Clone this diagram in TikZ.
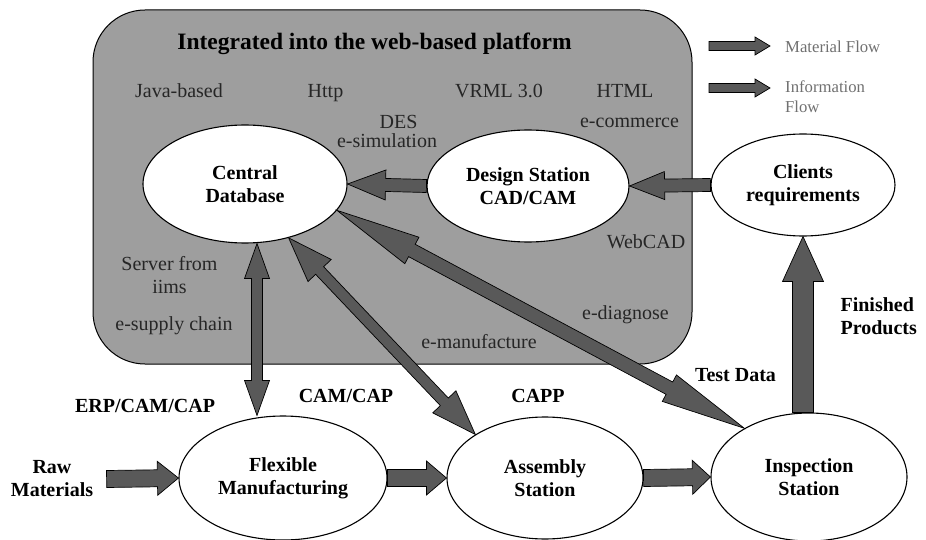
\documentclass[tikz,border=0pt]{standalone}
\usepackage{fontspec}
\setmainfont{Liberation Serif}
\usetikzlibrary{calc,shapes.geometric}
\definecolor{platgray}{RGB}{158,158,158}
\definecolor{flowgray}{RGB}{89,89,89}
\definecolor{labelgray}{RGB}{38,38,38}
\definecolor{legendgray}{RGB}{112,112,112}

\tikzset{
  station/.style={ellipse,draw,line width=1.1pt,fill=white,inner sep=0pt,align=center,
    font=\bfseries\fontsize{20}{23}\selectfont},
  weblabel/.style={anchor=base,text=labelgray,font=\fontsize{20}{23}\selectfont},
  boldlabel/.style={anchor=base,font=\bfseries\fontsize{20}{23}\selectfont},
  arrowbody/.style={draw=black,line width=0.7pt,fill=flowgray},
  % shaft half width / head half width / head length, all in pt
  blockarrow/.style n args={3}{to path={
    let \p1=(\tikztostart), \p2=(\tikztotarget),
        \n1={atan2(\y2-\y1,\x2-\x1)}, \n2={veclen(\x2-\x1,\y2-\y1)} in
    ($(\p1)+(\n1+90:#1pt)$) -- ($(\p1)+(\n1:\n2-#3pt)+(\n1+90:#1pt)$)
    -- ($(\p1)+(\n1:\n2-#3pt)+(\n1+90:#2pt)$) -- (\p2)
    -- ($(\p1)+(\n1:\n2-#3pt)+(\n1-90:#2pt)$) -- ($(\p1)+(\n1:\n2-#3pt)+(\n1-90:#1pt)$)
    -- ($(\p1)+(\n1-90:#1pt)$) -- cycle}},
  twinarrow/.style n args={3}{to path={
    let \p1=(\tikztostart), \p2=(\tikztotarget),
        \n1={atan2(\y2-\y1,\x2-\x1)}, \n2={veclen(\x2-\x1,\y2-\y1)} in
    (\p1) -- ($(\p1)+(\n1:#3pt)+(\n1+90:#2pt)$) -- ($(\p1)+(\n1:#3pt)+(\n1+90:#1pt)$)
    -- ($(\p1)+(\n1:\n2-#3pt)+(\n1+90:#1pt)$) -- ($(\p1)+(\n1:\n2-#3pt)+(\n1+90:#2pt)$)
    -- (\p2)
    -- ($(\p1)+(\n1:\n2-#3pt)+(\n1-90:#2pt)$) -- ($(\p1)+(\n1:\n2-#3pt)+(\n1-90:#1pt)$)
    -- ($(\p1)+(\n1:#3pt)+(\n1-90:#1pt)$) -- ($(\p1)+(\n1:#3pt)+(\n1-90:#2pt)$) -- cycle}},
}

\begin{document}
\begin{tikzpicture}[x=1pt,y=-1pt]
  \useasboundingbox (0,0) rectangle (926,540);

  % web-based platform
  \draw[line width=1pt,fill=platgray,rounded corners=52] (93,10) rectangle (692,364);
  \node[anchor=base,font=\bfseries\fontsize{23.5}{26}\selectfont] (title) at (374.5,50)
    {Integrated into the web-based platform};

  \node[weblabel] (java) at (179,98) {Java-based};
  \node[weblabel] (http) at (325.5,98) {Http};
  \node[weblabel] (vrml) at (499,98) {VRML 3.0};
  \node[weblabel] (html) at (625,98) {HTML};
  \node[weblabel] (des) at (398.5,129) {DES};
  \node[weblabel] (esim) at (387,148) {e-simulation};
  \node[weblabel] (ecom) at (629.5,128) {e-commerce};
  \node[weblabel] (server) at (169.5,270) {Server from};
  \node[weblabel] (iims) at (169.5,293) {iims};
  \node[weblabel] (esup) at (174,330) {e-supply chain};
  \node[weblabel] (webcad) at (646,248) {WebCAD};
  \node[weblabel] (ediag) at (625.5,319) {e-diagnose};
  \node[weblabel] (emanu) at (479,348) {e-manufacture};

  % stations
  \node[station,minimum width=204,minimum height=118] (cdb) at (245,184) {Central\\Database};
  \node[station,minimum width=202,minimum height=112] (ds) at (528,186) {Design Station\\CAD/CAM};
  \node[station,minimum width=184,minimum height=102] (cr) at (803,185) {Clients\\requirements};
  \node[station,minimum width=208,minimum height=124] (fm) at (283,478) {Flexible\\Manufacturing};
  \node[station,minimum width=196,minimum height=122] (as) at (545,478) {Assembly\\Station};
  \node[station,minimum width=196,minimum height=128] (is) at (809,477) {Inspection\\Station};

  % bold labels
  \node[boldlabel,anchor=center,align=center] (raw) at (52,479) {Raw\\Materials};
  \node[boldlabel] (erp) at (145,412) {ERP/CAM/CAP};
  \node[boldlabel] (camcap) at (346,402) {CAM/CAP};
  \node[boldlabel] (capp) at (538,402) {CAPP};
  \node[boldlabel] (test) at (735.5,381) {Test Data};
  \node[boldlabel,anchor=west,align=left] (fin) at (837,316) {Finished\\Products};

  % information flow
  \draw[arrowbody] (ds.west) to[blockarrow={6.5}{15}{38}] (cdb.east);
  \draw[arrowbody] (cr.west) to[blockarrow={6.5}{14}{35}] (ds.east);
  \draw[arrowbody] ($(cdb.south)+(12,0)$) to[twinarrow={5.5}{12.5}{35}] ($(fm.north)+(-26,0)$);
  \draw[arrowbody] (cdb.-51) to[twinarrow={5.5}{16}{45}] (as.148);
  \draw[arrowbody] (cdb.-16) to[twinarrow={7}{15}{85}] (is.143);

  % material flow
  \draw[arrowbody] ($(raw.east)+(10,0)$) to[blockarrow={8.5}{17}{21}] (fm.west);
  \draw[arrowbody] (fm.east) to[blockarrow={8.5}{17}{20}] (as.west);
  \draw[arrowbody] (as.east) to[blockarrow={8.5}{17}{18}] (is.west);
  \draw[arrowbody] (cr.south |- is.north) to[blockarrow={10.5}{20.5}{45}] (cr.south);

  % legend
  \coordinate (mat0) at (709,46);
  \coordinate (mat1) at (770,46);
  \coordinate (inf0) at (709,88);
  \coordinate (inf1) at (770,88);
  \draw[arrowbody] (mat0) to[blockarrow={4.5}{9}{15}] (mat1);
  \draw[arrowbody] (inf0) to[blockarrow={4.5}{9}{15}] (inf1);
  \node[anchor=base west,inner sep=0pt,text=legendgray,font=\fontsize{16.7}{20}\selectfont] (matflow) at (785,53) {Material Flow};
  \node[anchor=base west,inner sep=0pt,text=legendgray,font=\fontsize{16.7}{20}\selectfont] (infflow) at (785,93) {Information};
  \node[anchor=base west,inner sep=0pt,text=legendgray,font=\fontsize{16.7}{20}\selectfont] (infflow2) at (785,113) {Flow};
\end{tikzpicture}
\end{document}
